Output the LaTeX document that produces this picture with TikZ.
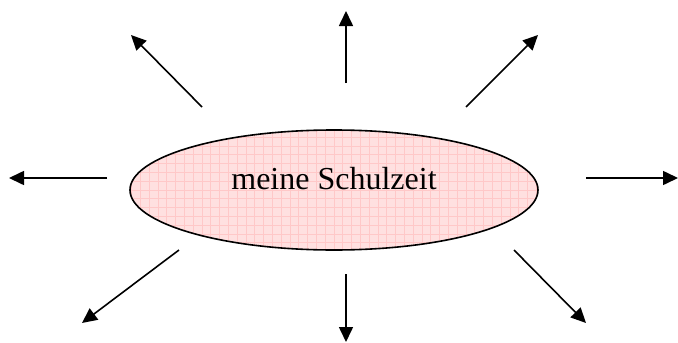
\documentclass[tikz,border=0pt]{standalone}
\usepackage{fontspec}
\setmainfont{Liberation Serif}
\usetikzlibrary{shapes.geometric,arrows.meta}
\definecolor{pinkfill}{HTML}{FFE0E0}
\definecolor{pinkgrid}{HTML}{FFC8C8}
\tikzset{
  ray/.style={line width=1.6pt,-{Triangle[length=15pt,width=14pt]}},
  blob/.style={ellipse,draw,line width=1.6pt,fill=pinkfill,minimum width=408pt,minimum height=120pt,inner sep=0pt,
    path picture={\draw[pinkgrid,line width=0.7pt,step=8.8pt] (path picture bounding box.south west) grid (path picture bounding box.north east);}},
  lbl/.style={font=\fontsize{32}{38}\selectfont,inner sep=0pt}
}
\begin{document}
\begin{tikzpicture}[x=1pt,y=-1pt]
\useasboundingbox (0,0) rectangle (678,343);
\node[blob] (e) at (334,190) {};
\node[lbl] (t) at (334,179) {meine Schulzeit};
\coordinate (us) at (346,83);  \coordinate (ue) at (346,11);
\coordinate (uls) at (202,107); \coordinate (ule) at (131,35);
\coordinate (urs) at (466,107); \coordinate (ure) at (538,35);
\coordinate (ls) at (107,178); \coordinate (le) at (9,178);
\coordinate (rs) at (586,178); \coordinate (re) at (678,178);
\coordinate (lls) at (179,250); \coordinate (lle) at (82,323);
\coordinate (lrs) at (514,250); \coordinate (lre) at (586,323);
\coordinate (ds) at (346,274); \coordinate (de) at (346,342);
\draw[ray] (us) -- (ue);
\draw[ray] (uls) -- (ule);
\draw[ray] (urs) -- (ure);
\draw[ray] (ls) -- (le);
\draw[ray] (rs) -- (re);
\draw[ray] (lls) -- (lle);
\draw[ray] (lrs) -- (lre);
\draw[ray] (ds) -- (de);
\end{tikzpicture}
\end{document}
